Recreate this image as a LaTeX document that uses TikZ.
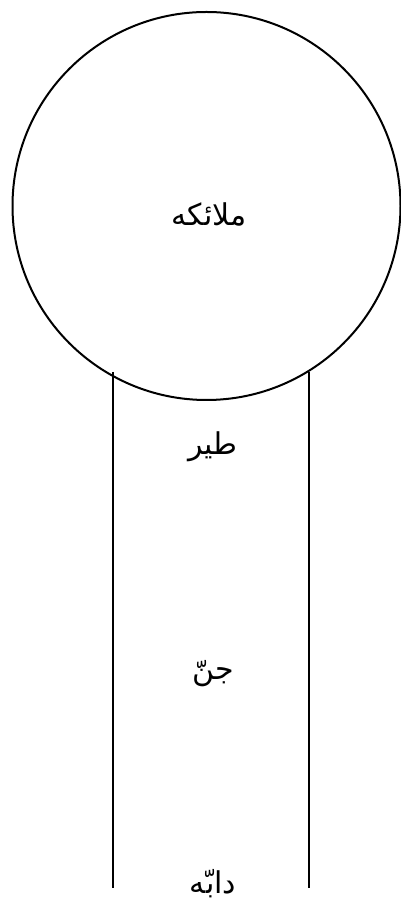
\documentclass[tikz,border=0pt]{standalone}
\usepackage{fontspec}
\TeXXeTstate=1
\newfontfamily\arabicfont[Script=Arabic]{DejaVu Sans}
\tikzset{
  ring/.style={line width=2pt},
  rail/.style={line width=2pt},
  lbl/.style={font=\arabicfont\fontsize{30}{36}\selectfont, inner sep=0pt, anchor=base}
}
\begin{document}
\begin{tikzpicture}[x=1pt,y=1pt]
\useasboundingbox (0,0) rectangle (400,905);
\coordinate (c) at (206.5,699);
\draw[ring] (c) circle[radius=194];
\node[lbl] (tm) at (209,679) {\beginR ملائکه\endR};
\node[lbl] (tayr) at (213,450) {\beginR طیر\endR};
\node[lbl] (jinn) at (213,225) {\beginR جنّ\endR};
\node[lbl] (dabba) at (213,12) {\beginR دابّه\endR};
\coordinate (lt) at (112.5,533);
\coordinate (lb) at (112.5,17);
\coordinate (rt) at (308.5,533);
\coordinate (rb) at (308.5,17);
\draw[rail] (lt) -- (lb);
\draw[rail] (rt) -- (rb);
\end{tikzpicture}
\end{document}
